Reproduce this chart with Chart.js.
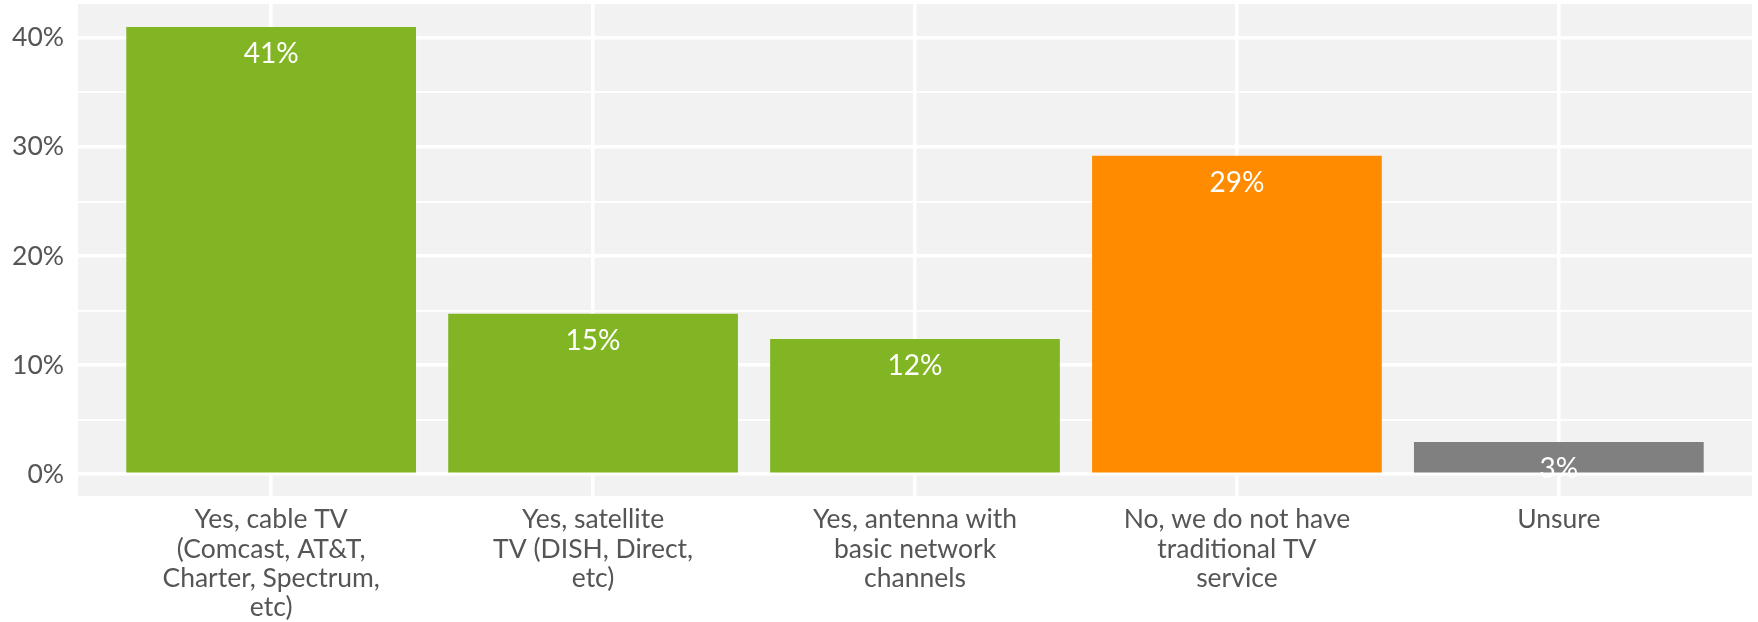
<!DOCTYPE html>
<html>
<head>
<meta charset="utf-8">
<script src="https://cdn.jsdelivr.net/npm/chart.js@4"></script>
<style>
html,body{margin:0;padding:0;background:#fff;}
#wrap{width:1758px;height:622px;position:relative;}
</style>
</head>
<body>
<div id="wrap"><canvas id="c" width="1758" height="622"></canvas></div>
<script>
const categories = [
  ["Yes, cable TV", "(Comcast, AT&T,", "Charter, Spectrum,", "etc)"],
  ["Yes, satellite", "TV (DISH, Direct,", "etc)"],
  ["Yes, antenna with", "basic network", "channels"],
  ["No, we do not have", "traditional TV", "service"],
  ["Unsure"]
];
const values = [41.0, 14.7, 12.4, 29.2, 2.95];
const valueLabels = ["41%", "15%", "12%", "29%", "3%"];
const barColors = ["#82b523", "#82b523", "#82b523", "#ff8c00", "#808080"];
const yTickValues = [0, 5, 10, 15, 20, 25, 30, 35, 40];

const bgPlugin = {
  id: 'panelBg',
  beforeDraw(chart) {
    const a = chart.chartArea, ctx = chart.ctx;
    ctx.save();
    ctx.fillStyle = '#f2f2f2';
    ctx.fillRect(a.left, a.top, a.right - a.left, a.bottom - a.top);
    ctx.restore();
  }
};
const labelPlugin = {
  id: 'valLabels',
  afterDatasetsDraw(chart) {
    const ctx = chart.ctx;
    const meta = chart.getDatasetMeta(0);
    ctx.save();
    ctx.fillStyle = '#ffffff';
    ctx.font = '28px Lato';
    ctx.textAlign = 'center';
    ctx.textBaseline = 'middle';
    meta.data.forEach((el, i) => {
      ctx.fillText(valueLabels[i], el.x, el.y + 27);
    });
    ctx.restore();
  }
};

new Chart(document.getElementById('c'), {
  type: 'bar',
  data: {
    datasets: [{
      data: values.map((v, i) => ({x: i, y: v})),
      backgroundColor: barColors,
      borderWidth: 0,
      barPercentage: 0.9,
      categoryPercentage: 1.0
    }]
  },
  options: {
    responsive: false,
    animation: false,
    layout: {padding: {top: 4, right: 6, left: 0, bottom: 0}},
    plugins: {legend: {display: false}, tooltip: {enabled: false}},
    scales: {
      x: {
        type: 'linear',
        offset: false,
        min: -0.6,
        max: 4.6,
        afterBuildTicks: (s) => { s.ticks = categories.map((_, i) => ({value: i})); },
        afterFit: (s) => { s.height = 126; s.paddingLeft = 0; s.paddingRight = 0; },
        border: {display: false},
        grid: {color: '#ffffff', lineWidth: 3.5, drawTicks: false, offset: false},
        ticks: {
          autoSkip: false,
          maxRotation: 0,
          padding: 9,
          color: '#555555',
          font: {family: 'Lato', size: 26.5, lineHeight: 1.11},
          callback: (v) => categories[v] || ''
        }
      },
      y: {
        min: -2.0,
        max: 43.1,
        afterBuildTicks: (s) => { s.ticks = yTickValues.map(v => ({value: v})); },
        afterFit: (s) => { s.width = 78; s.paddingTop = 0; s.paddingBottom = 0; },
        border: {display: false},
        grid: {
          color: '#ffffff',
          drawTicks: false,
          lineWidth: (c) => (c.tick && c.tick.value % 10 === 0) ? 3.5 : 1.8
        },
        ticks: {
          padding: 14,
          color: '#555555',
          font: {family: 'Lato', size: 26.5},
          callback: (v) => (v % 10 === 0 ? v + '%' : '')
        }
      }
    }
  },
  plugins: [bgPlugin, labelPlugin]
});
</script>
</body>
</html>
